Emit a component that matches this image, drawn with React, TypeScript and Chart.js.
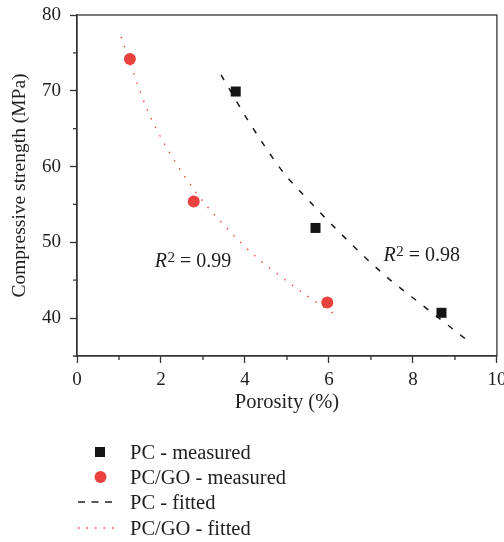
import React, { useEffect, useRef } from 'react';
import { Chart, registerables } from 'chart.js';

Chart.register(...registerables);

// ---- data ----
const pcMeasuredX = [3.78, 5.68, 8.68];
const pcMeasuredY = [69.9, 51.9, 40.7];
const goMeasuredX = [1.26, 2.78, 5.96];
const goMeasuredY = [74.2, 55.4, 42.05];
const pcFitX = [3.43, 4.06, 4.93, 5.17, 6.2, 7.34, 8.25, 9.24];
const pcFitY = [72.1, 66.2, 59.1, 57.6, 51.6, 45.6, 41.6, 37.3];
const goFitX = [1.05, 1.68, 2.22, 2.86, 3.63, 4.3, 4.66, 5.41, 6.19];
const goFitY = [77.1, 67.4, 61.7, 56.4, 51.5, 47.9, 46.3, 43.2, 40.3];

const xMajorTicks = [0, 2, 4, 6, 8, 10];
const xMinorTicks = [1, 3, 5, 7, 9];
const yMajorTicks = [40, 50, 60, 70, 80];
const yMinorTicks = [35, 45, 55, 65, 75];

const r2X = [1.854, 7.3];
const r2Y = [46.7, 47.55];
const r2Values = ['0.99', '0.98'];

const legendLabels = ['PC - measured', 'PC/GO - measured', 'PC - fitted', 'PC/GO - fitted'];

const FONT = '"Liberation Serif", "Times New Roman", serif';
const RED = '#e8413e';
const BLACK = '#141414';
const AXIS = '#333333';
const TEXT = '#1e1e1e';

const zip = (xs: number[], ys: number[]) => xs.map((x, i) => ({ x, y: ys[i] }));

const framePlugin = {
  id: 'frameMinor',
  afterDraw(chart: any) {
    const { ctx, chartArea } = chart;
    const xs = chart.scales.x;
    const ys = chart.scales.y;
    ctx.save();
    ctx.strokeStyle = AXIS;
    ctx.lineWidth = 1.3;
    ctx.strokeRect(chartArea.left, chartArea.top, chartArea.right - chartArea.left, chartArea.bottom - chartArea.top);
    ctx.beginPath();
    xMinorTicks.forEach((v) => {
      const px = xs.getPixelForValue(v);
      ctx.moveTo(px, chartArea.bottom);
      ctx.lineTo(px, chartArea.bottom + 4);
    });
    yMinorTicks.forEach((v) => {
      const py = ys.getPixelForValue(v);
      ctx.moveTo(chartArea.left, py);
      ctx.lineTo(chartArea.left - 4, py);
    });
    ctx.stroke();
    ctx.restore();
  },
};

const r2Plugin = {
  id: 'r2Labels',
  afterDatasetsDraw(chart: any) {
    const { ctx } = chart;
    const xs = chart.scales.x;
    const ys = chart.scales.y;
    ctx.save();
    ctx.fillStyle = TEXT;
    ctx.textBaseline = 'alphabetic';
    ctx.textAlign = 'left';
    r2Values.forEach((val, i) => {
      let px = xs.getPixelForValue(r2X[i]);
      const py = ys.getPixelForValue(r2Y[i]);
      ctx.font = `italic 20px ${FONT}`;
      ctx.fillText('R', px, py);
      px += ctx.measureText('R').width + 0.5;
      ctx.font = `15px ${FONT}`;
      ctx.fillText('2', px, py - 5);
      px += ctx.measureText('2').width;
      ctx.font = `20px ${FONT}`;
      ctx.fillText(' = ' + val, px, py);
    });
    ctx.restore();
  },
};

export default function App() {
  const ref = useRef<HTMLCanvasElement>(null);

  useEffect(() => {
    if (!ref.current) return;
    const chart = new Chart(ref.current, {
      type: 'scatter',
      data: {
        datasets: [
          {
            type: 'scatter',
            label: legendLabels[0],
            data: zip(pcMeasuredX, pcMeasuredY),
            pointStyle: 'rect',
            pointRadius: 7.07,
            backgroundColor: BLACK,
            borderColor: BLACK,
            borderWidth: 0,
          },
          {
            type: 'scatter',
            label: legendLabels[1],
            data: zip(goMeasuredX, goMeasuredY),
            pointStyle: 'circle',
            pointRadius: 6,
            backgroundColor: RED,
            borderColor: RED,
            borderWidth: 0,
          },
          {
            type: 'line',
            label: legendLabels[2],
            data: zip(pcFitX, pcFitY),
            showLine: true,
            pointRadius: 0,
            borderColor: '#1a1a1a',
            borderWidth: 1.5,
            borderDash: [6, 9.5],
            cubicInterpolationMode: 'monotone',
            fill: false,
          },
          {
            type: 'line',
            label: legendLabels[3],
            data: zip(goFitX, goFitY),
            showLine: true,
            pointRadius: 0,
            borderColor: RED,
            borderWidth: 1.4,
            borderDash: [1.4, 8.2],
            cubicInterpolationMode: 'monotone',
            fill: false,
          },
        ] as any,
      },
      options: {
        responsive: false,
        animation: false,
        devicePixelRatio: 1,
        layout: { padding: { left: 0, right: 5, top: 15, bottom: 123.6 } },
        plugins: {
          legend: { display: false },
          tooltip: { enabled: false },
        },
        scales: {
          x: {
            type: 'linear',
            min: 0,
            max: 10,
            afterBuildTicks: (s: any) => {
              s.ticks = xMajorTicks.map((v) => ({ value: v }));
            },
            afterFit: (s: any) => {
              s.height = 62.4;
              s.paddingRight = 0;
              s.paddingLeft = 0;
            },
            grid: { drawOnChartArea: false, drawTicks: true, tickLength: 7, tickColor: AXIS, tickWidth: 1.3 },
            border: { color: AXIS, width: 1.3 },
            ticks: { font: { family: FONT, size: 19 }, color: TEXT, padding: 6, maxRotation: 0, autoSkip: false },
            title: {
              display: true,
              text: 'Porosity (%)',
              font: { family: FONT, size: 20.5 },
              color: TEXT,
              padding: { top: 0, bottom: 3 },
            },
          },
          y: {
            type: 'linear',
            min: 35,
            max: 80,
            afterBuildTicks: (s: any) => {
              s.ticks = yMajorTicks.map((v) => ({ value: v }));
            },
            afterFit: (s: any) => {
              s.width = 77;
              s.paddingTop = 0;
              s.paddingBottom = 0;
            },
            grid: { drawOnChartArea: false, drawTicks: true, tickLength: 7, tickColor: AXIS, tickWidth: 1.3 },
            border: { color: AXIS, width: 1.3 },
            ticks: { font: { family: FONT, size: 19 }, color: TEXT, padding: 9, autoSkip: false },
            title: {
              display: true,
              text: 'Compressive strength (MPa)',
              font: { family: FONT, size: 19.5 },
              color: TEXT,
              padding: { top: 8, bottom: 0 },
            },
          },
        },
      } as any,
      plugins: [framePlugin, r2Plugin],
    });
    return () => chart.destroy();
  }, []);

  const rowCenters = [451.5, 477, 502, 527.5];
  const markers = [
    <rect key="m0" x={17} y={7} width={10} height={10} fill={BLACK} />,
    <circle key="m1" cx={22.5} cy={12} r={6} fill={RED} />,
    <line key="m2" x1={0} y1={12} x2={35} y2={12} stroke="#222" strokeWidth={1.5} strokeDasharray="7 6.5" />,
    <line key="m3" x1={0} y1={12} x2={36} y2={12} stroke={RED} strokeWidth={1.5} strokeDasharray="1.5 7" />,
  ];

  return (
    <div style={{ position: 'fixed', left: 0, top: 0, width: 504, height: 542, background: '#fff' }}>
      <canvas ref={ref} width={504} height={542} style={{ position: 'absolute', left: 0, top: 0, width: 504, height: 542 }} />
      {legendLabels.map((label, i) => (
        <div
          key={label}
          style={{ position: 'absolute', left: 0, top: rowCenters[i] - 12, height: 24, width: 504 }}
        >
          <svg width={40} height={24} style={{ position: 'absolute', left: 78, top: 0 }}>
            {markers[i]}
          </svg>
          <span
            style={{
              position: 'absolute',
              left: 130,
              top: 0,
              lineHeight: '24px',
              fontFamily: FONT,
              fontSize: 20.5,
              color: TEXT,
              whiteSpace: 'nowrap',
            }}
          >
            {label}
          </span>
        </div>
      ))}
    </div>
  );
}
